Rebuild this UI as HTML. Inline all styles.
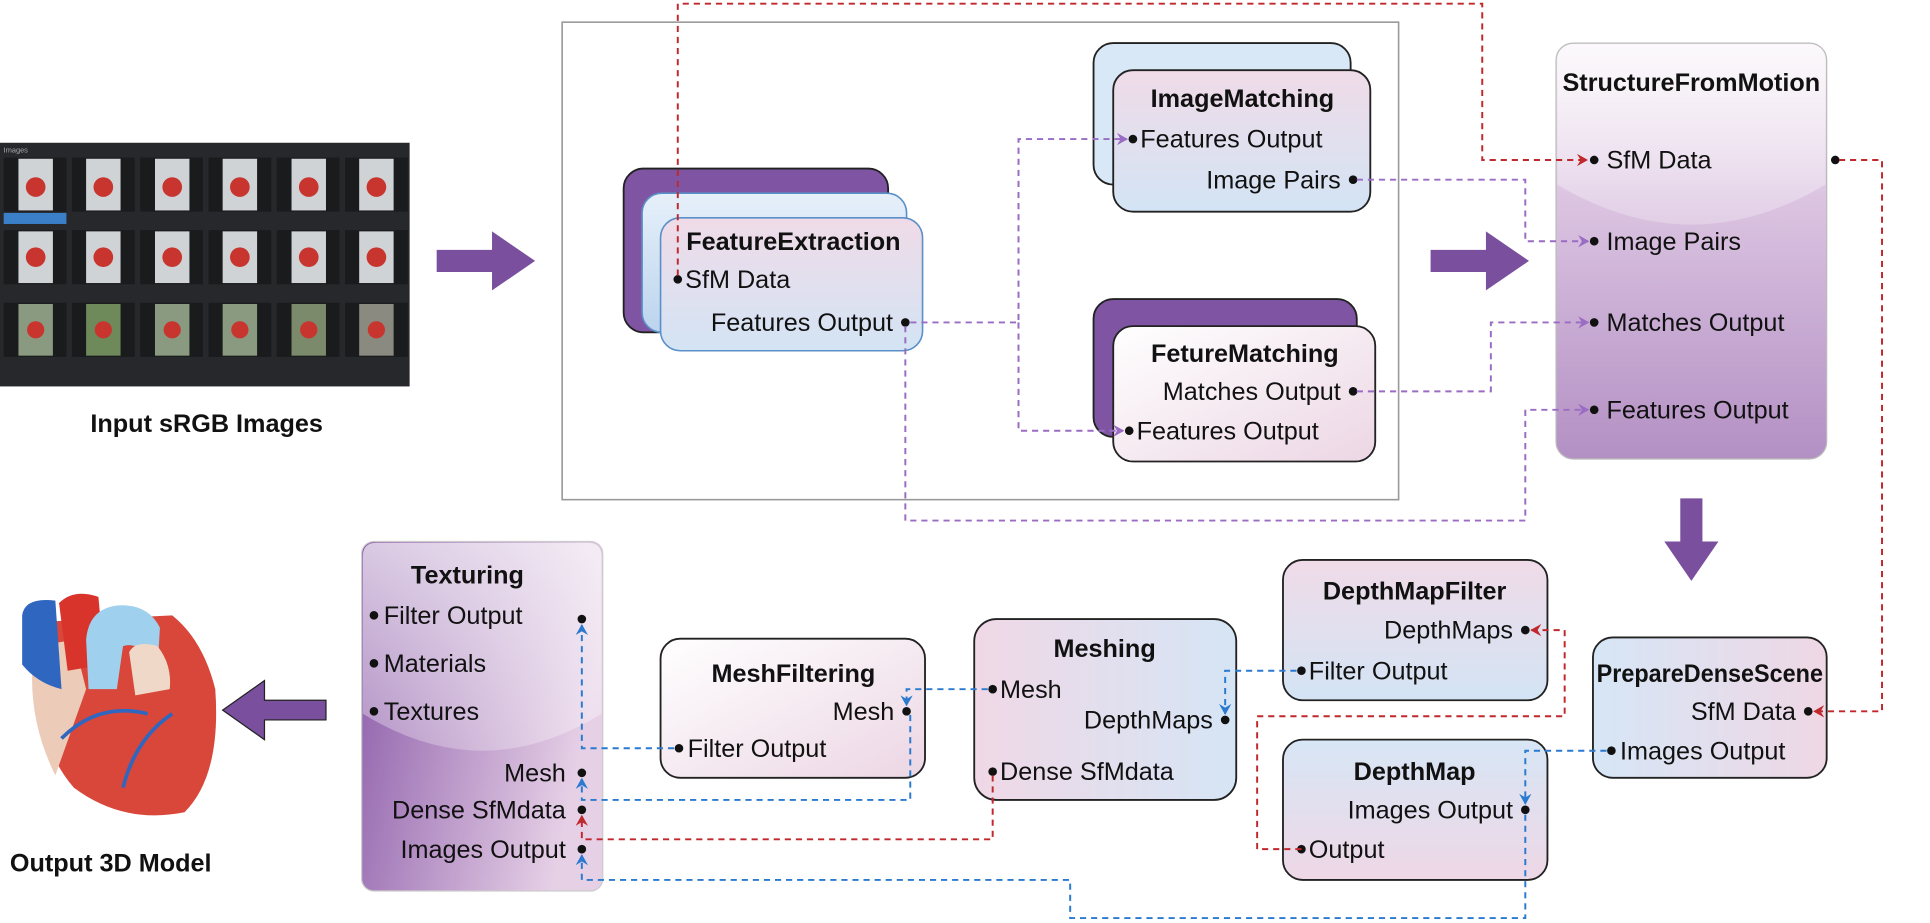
<!DOCTYPE html>
<html><head><meta charset="utf-8"><style>
html,body{margin:0;padding:0;background:#fff;}
svg{display:block;}
text{font-family:"Liberation Sans",Arial,sans-serif;fill:#111;}
.l{font-size:20.5px;}
.t{font-size:20.5px;font-weight:bold;}
</style></head><body>
<svg width="1930" height="923" viewBox="0 0 1569 750" preserveAspectRatio="none" xmlns="http://www.w3.org/2000/svg">
<defs>
<linearGradient id="pb" x1="0" y1="0" x2="0" y2="1"><stop offset="0" stop-color="#f0dbe8"/><stop offset="1" stop-color="#d3e4f4"/></linearGradient>
<linearGradient id="bp" x1="0" y1="0" x2="0" y2="1"><stop offset="0" stop-color="#d7e6f5"/><stop offset="1" stop-color="#eed7e6"/></linearGradient>
<linearGradient id="wp" x1="0" y1="0" x2="1" y2="1"><stop offset="0" stop-color="#ffffff"/><stop offset="1" stop-color="#ecd6e4"/></linearGradient>
<linearGradient id="pbh" x1="0" y1="0" x2="1" y2="0"><stop offset="0" stop-color="#f0d8e6"/><stop offset="1" stop-color="#d5e5f5"/></linearGradient>
<linearGradient id="bph" x1="0" y1="0" x2="1" y2="0"><stop offset="0" stop-color="#d6e6f6"/><stop offset="1" stop-color="#efd7e5"/></linearGradient>
<linearGradient id="lb" x1="0" y1="0" x2="0" y2="1"><stop offset="0" stop-color="#e6f0fa"/><stop offset="1" stop-color="#bcd4ee"/></linearGradient>
<linearGradient id="sfm" x1="0" y1="0" x2="0" y2="1"><stop offset="0" stop-color="#f6eef6"/><stop offset="0.35" stop-color="#ddc6e2"/><stop offset="1" stop-color="#b390c4"/></linearGradient>
<linearGradient id="tex" x1="0" y1="0" x2="1" y2="0.3"><stop offset="0" stop-color="#8a5aa8"/><stop offset="1" stop-color="#e6d0e6"/></linearGradient>
<linearGradient id="hl" x1="0" y1="0" x2="0" y2="1"><stop offset="0" stop-color="#fff" stop-opacity="0.9"/><stop offset="1" stop-color="#fff" stop-opacity="0.35"/></linearGradient>
<marker id="ar" markerWidth="10" markerHeight="10" refX="8" refY="5" orient="auto" markerUnits="userSpaceOnUse"><path d="M0,0 L9,5 L0,10 L3,5 Z" fill="#c0282d"/></marker>
<marker id="ap" markerWidth="10" markerHeight="10" refX="8" refY="5" orient="auto" markerUnits="userSpaceOnUse"><path d="M0,0 L9,5 L0,10 L3,5 Z" fill="#9a6cc4"/></marker>
<marker id="ab" markerWidth="10" markerHeight="10" refX="8" refY="5" orient="auto" markerUnits="userSpaceOnUse"><path d="M0,0 L9,5 L0,10 L3,5 Z" fill="#2a7ad0"/></marker>
</defs>

<rect x="0" y="116" width="333" height="198" fill="#26282b"/>
<text x="3" y="124" style="font-size:6px;fill:#aaa">Images</text>
<g>
<g fill="#1a1b1d">
<rect x="3" y="128" width="51" height="44"/><rect x="58.5" y="128" width="51" height="44"/><rect x="114" y="128" width="51" height="44"/><rect x="169.5" y="128" width="51" height="44"/><rect x="225" y="128" width="51" height="44"/><rect x="280.5" y="128" width="51" height="44"/>
<rect x="3" y="187" width="51" height="44"/><rect x="58.5" y="187" width="51" height="44"/><rect x="114" y="187" width="51" height="44"/><rect x="169.5" y="187" width="51" height="44"/><rect x="225" y="187" width="51" height="44"/><rect x="280.5" y="187" width="51" height="44"/>
<rect x="3" y="246" width="51" height="44"/><rect x="58.5" y="246" width="51" height="44"/><rect x="114" y="246" width="51" height="44"/><rect x="169.5" y="246" width="51" height="44"/><rect x="225" y="246" width="51" height="44"/><rect x="280.5" y="246" width="51" height="44"/>
</g>
<g fill="#cfd3d6">
<rect x="15" y="129" width="28" height="42"/><rect x="70" y="129" width="28" height="42"/><rect x="126" y="129" width="28" height="42"/><rect x="181" y="129" width="28" height="42"/><rect x="237" y="129" width="28" height="42"/><rect x="292" y="129" width="28" height="42"/>
<rect x="15" y="188" width="28" height="42"/><rect x="70" y="188" width="28" height="42"/><rect x="126" y="188" width="28" height="42"/><rect x="181" y="188" width="28" height="42"/><rect x="237" y="188" width="28" height="42"/><rect x="292" y="188" width="28" height="42"/>
<rect x="15" y="247" width="28" height="42" fill="#8a9a80"/><rect x="70" y="247" width="28" height="42" fill="#6e8a5a"/><rect x="126" y="247" width="28" height="42" fill="#8a9a80"/><rect x="181" y="247" width="28" height="42" fill="#8a9a80"/><rect x="237" y="247" width="28" height="42" fill="#7a8a6a"/><rect x="292" y="247" width="28" height="42" fill="#8a8a80"/>
</g>
<g fill="#c8352e">
<circle cx="29" cy="152" r="8"/><circle cx="84" cy="152" r="8"/><circle cx="140" cy="152" r="8"/><circle cx="195" cy="152" r="8"/><circle cx="251" cy="152" r="8"/><circle cx="306" cy="152" r="8"/>
<circle cx="29" cy="209" r="8"/><circle cx="84" cy="209" r="8"/><circle cx="140" cy="209" r="8"/><circle cx="195" cy="209" r="8"/><circle cx="251" cy="209" r="8"/><circle cx="306" cy="209" r="8"/>
<circle cx="29" cy="268" r="7"/><circle cx="84" cy="268" r="7"/><circle cx="140" cy="268" r="7"/><circle cx="195" cy="268" r="7"/><circle cx="251" cy="268" r="7"/><circle cx="306" cy="268" r="7"/>
</g>
<rect x="3" y="173" width="51" height="9" fill="#3a7fc8"/>
</g>
<text x="168" y="351" class="t" text-anchor="middle">Input sRGB Images</text>

<path d="M355,203 H400 V188 L435,212 L400,236 V221 H355 Z" fill="#7a4f9e"/>
<path d="M1163,203 H1208 V188 L1243,212 L1208,236 V221 H1163 Z" fill="#7a4f9e"/>
<path d="M1366,405 H1384 V440 H1397 L1375,472 L1353,440 H1366 Z" fill="#7a4f9e"/>
<path d="M265,569 H215 V553 L181,577 L215,601 V585 H265 Z" fill="#7a4f9e" stroke="#222" stroke-width="1"/>

<rect x="457" y="18" width="680" height="388" fill="none" stroke="#999" stroke-width="1.3"/>

<rect x="507" y="137" width="215" height="133" rx="16" fill="#7f55a3" stroke="#222" stroke-width="1.5"/>
<rect x="522" y="157" width="215" height="113" rx="16" fill="url(#lb)" stroke="#5b8fc8" stroke-width="1.3"/>
<rect x="537" y="177" width="213" height="108" rx="16" fill="url(#pb)" stroke="#5b8fc8" stroke-width="1.3"/>
<text x="645" y="203" class="t" text-anchor="middle">FeatureExtraction</text>
<circle cx="551" cy="227" r="3.5" fill="#111"/><text x="557" y="234" class="l">SfM Data</text>
<circle cx="736" cy="262" r="3.5" fill="#111"/><text x="726" y="269" class="l" text-anchor="end">Features Output</text>

<rect x="889" y="35" width="209" height="115" rx="16" fill="#d9e8f6" stroke="#222" stroke-width="1.5"/>
<rect x="905" y="57" width="209" height="115" rx="16" fill="url(#pb)" stroke="#222" stroke-width="1.5"/>
<text x="1010" y="87" class="t" text-anchor="middle">ImageMatching</text>
<circle cx="921" cy="113" r="3.5" fill="#111"/><text x="927" y="120" class="l">Features Output</text>
<circle cx="1100" cy="146" r="3.5" fill="#111"/><text x="1090" y="153" class="l" text-anchor="end">Image Pairs</text>

<rect x="889" y="243" width="214" height="112" rx="16" fill="#7f55a3" stroke="#222" stroke-width="1.5"/>
<rect x="905" y="265" width="213" height="110" rx="16" fill="url(#wp)" stroke="#222" stroke-width="1.5"/>
<text x="1012" y="294" class="t" text-anchor="middle">FetureMatching</text>
<circle cx="1100" cy="318" r="3.5" fill="#111"/><text x="1090" y="325" class="l" text-anchor="end">Matches Output</text>
<circle cx="918" cy="350" r="3.5" fill="#111"/><text x="924" y="357" class="l">Features Output</text>

<rect x="1265" y="35" width="220" height="338" rx="14" fill="url(#sfm)" stroke="#bbb" stroke-width="1"/>
<path d="M1266,50 Q1266,36 1280,36 H1470 Q1484,36 1484,50 V150 Q1375,215 1266,150 Z" fill="url(#hl)" opacity="0.7"/>
<text x="1375" y="74" class="t" text-anchor="middle">StructureFromMotion</text>
<circle cx="1296" cy="130" r="3.5" fill="#111"/><text x="1306" y="137" class="l">SfM Data</text>
<circle cx="1492" cy="130" r="3.5" fill="#111"/>
<circle cx="1296" cy="196" r="3.5" fill="#111"/><text x="1306" y="203" class="l">Image Pairs</text>
<circle cx="1296" cy="262" r="3.5" fill="#111"/><text x="1306" y="269" class="l">Matches Output</text>
<circle cx="1296" cy="333" r="3.5" fill="#111"/><text x="1306" y="340" class="l">Features Output</text>

<rect x="1295" y="518" width="190" height="114" rx="16" fill="url(#bph)" stroke="#222" stroke-width="1.5"/>
<text x="1390" y="554" class="t" text-anchor="middle" textLength="184" lengthAdjust="spacingAndGlyphs">PrepareDenseScene</text>
<circle cx="1470" cy="578" r="3.5" fill="#111"/><text x="1460" y="585" class="l" text-anchor="end">SfM Data</text>
<circle cx="1310" cy="610" r="3.5" fill="#111"/><text x="1317" y="617" class="l">Images Output</text>

<rect x="1043" y="455" width="215" height="114" rx="16" fill="url(#pb)" stroke="#222" stroke-width="1.5"/>
<text x="1150" y="487" class="t" text-anchor="middle">DepthMapFilter</text>
<circle cx="1240" cy="512" r="3.5" fill="#111"/><text x="1230" y="519" class="l" text-anchor="end">DepthMaps</text>
<circle cx="1058" cy="545" r="3.5" fill="#111"/><text x="1064" y="552" class="l">Filter Output</text>

<rect x="1043" y="601" width="215" height="114" rx="16" fill="url(#bp)" stroke="#222" stroke-width="1.5"/>
<text x="1150" y="634" class="t" text-anchor="middle">DepthMap</text>
<circle cx="1240" cy="658" r="3.5" fill="#111"/><text x="1230" y="665" class="l" text-anchor="end">Images Output</text>
<circle cx="1058" cy="690" r="3.5" fill="#111"/><text x="1064" y="697" class="l">Output</text>

<rect x="792" y="503" width="213" height="147" rx="18" fill="url(#pbh)" stroke="#222" stroke-width="1.5"/>
<text x="898" y="534" class="t" text-anchor="middle">Meshing</text>
<circle cx="807" cy="560" r="3.5" fill="#111"/><text x="813" y="567" class="l">Mesh</text>
<circle cx="996" cy="585" r="3.5" fill="#111"/><text x="986" y="592" class="l" text-anchor="end">DepthMaps</text>
<circle cx="807" cy="627" r="3.5" fill="#111"/><text x="813" y="634" class="l">Dense SfMdata</text>

<rect x="537" y="519" width="215" height="113" rx="16" fill="url(#wp)" stroke="#222" stroke-width="1.5"/>
<text x="645" y="554" class="t" text-anchor="middle">MeshFiltering</text>
<circle cx="737" cy="578" r="3.5" fill="#111"/><text x="727" y="585" class="l" text-anchor="end">Mesh</text>
<circle cx="552" cy="608" r="3.5" fill="#111"/><text x="559" y="615" class="l">Filter Output</text>

<rect x="294" y="440" width="196" height="284" rx="10" fill="url(#tex)" stroke="#ccc" stroke-width="1"/>
<path d="M295,452 Q295,441 306,441 H478 Q489,441 489,452 V580 Q392,640 295,580 Z" fill="url(#hl)" opacity="0.75"/>
<text x="380" y="474" class="t" text-anchor="middle">Texturing</text>
<circle cx="304" cy="500" r="3.5" fill="#111"/><text x="312" y="507" class="l">Filter Output</text>
<circle cx="473" cy="503" r="3.5" fill="#111"/>
<circle cx="304" cy="539" r="3.5" fill="#111"/><text x="312" y="546" class="l">Materials</text>
<circle cx="304" cy="578" r="3.5" fill="#111"/><text x="312" y="585" class="l">Textures</text>
<circle cx="473" cy="628" r="3.5" fill="#111"/><text x="460" y="635" class="l" text-anchor="end">Mesh</text>
<circle cx="473" cy="658" r="3.5" fill="#111"/><text x="460" y="665" class="l" text-anchor="end">Dense SfMdata</text>
<circle cx="473" cy="690" r="3.5" fill="#111"/><text x="460" y="697" class="l" text-anchor="end">Images Output</text>

<g>
<path d="M30,520 Q25,600 60,640 Q100,670 150,660 Q180,630 175,560 Q165,520 140,500 L40,505 Z" fill="#d8473a"/>
<path d="M28,525 Q20,580 45,630 L70,560 L60,520 Z" fill="#eccbb8"/>
<path d="M18,500 Q20,485 45,488 L50,560 Q30,555 18,540 Z" fill="#2f66c0"/>
<path d="M48,490 Q60,478 80,485 L85,540 L55,545 Z" fill="#d8342c"/>
<path d="M70,520 Q72,495 95,492 Q120,490 130,510 L128,545 Q115,520 100,525 L95,560 L72,560 Z" fill="#9fd0ee"/>
<path d="M105,530 Q110,520 128,525 Q140,540 138,560 L110,565 Z" fill="#f0d8c8"/>
<path d="M50,600 Q80,570 120,580 M100,640 Q110,600 140,580" stroke="#2f66c0" stroke-width="3" fill="none"/>
</g>
<text x="90" y="708" class="t" text-anchor="middle">Output 3D Model</text>

<g fill="none" stroke-width="1.6" stroke-dasharray="5 4">
<path d="M551,224 V3 H1205 V130 H1290" stroke="#c0282d" marker-end="url(#ar)"/>
<path d="M1495,130 H1530 V578 H1475" stroke="#c0282d" marker-end="url(#ar)"/>
<path d="M1058,690 H1022 V582 H1272 V512 H1245" stroke="#c0282d" marker-end="url(#ar)"/>
<path d="M807,630 V682 H473 V663" stroke="#c0282d" marker-end="url(#ar)"/>

<path d="M740,262 H828 V113 H916" stroke="#9a6cc4" marker-end="url(#ap)"/>
<path d="M828,262 V350 H913" stroke="#9a6cc4" marker-end="url(#ap)"/>
<path d="M1103,146 H1240 V196 H1291" stroke="#9a6cc4" marker-end="url(#ap)"/>
<path d="M1103,318 H1212 V262 H1291" stroke="#9a6cc4" marker-end="url(#ap)"/>
<path d="M736,265 V423 H1240 V333 H1291" stroke="#9a6cc4" marker-end="url(#ap)"/>

<path d="M1306,610 H1240 V653" stroke="#2a7ad0" marker-end="url(#ab)"/>
<path d="M1054,545 H996 V580" stroke="#2a7ad0" marker-end="url(#ab)"/>
<path d="M803,560 H737 V573" stroke="#2a7ad0" marker-end="url(#ab)"/>
<path d="M548,608 H473 V508" stroke="#2a7ad0" marker-end="url(#ab)"/>
<path d="M740,581 V650 H473 V633" stroke="#2a7ad0" marker-end="url(#ab)"/>
<path d="M1240,662 V746 H870 V715 H473 V695" stroke="#2a7ad0" marker-end="url(#ab)"/>
</g>
</svg>
</body></html>
